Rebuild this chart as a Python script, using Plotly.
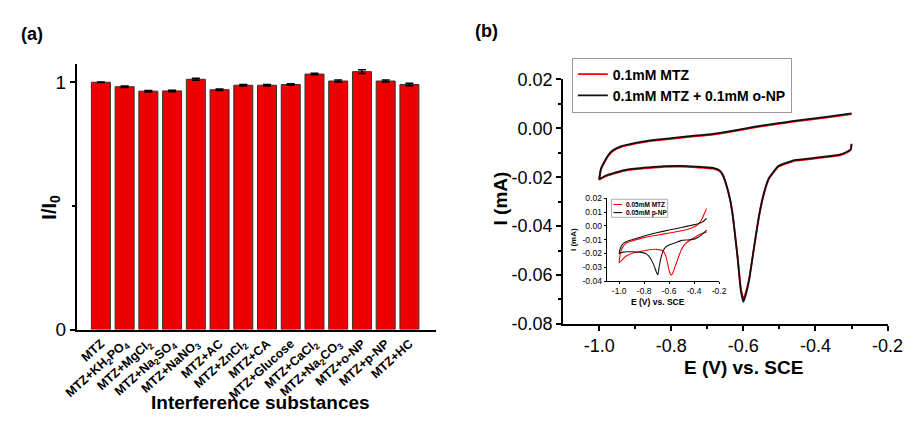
import plotly.graph_objects as go

FONT = "Liberation Sans, Arial, sans-serif"
W, H = 921, 429

# ---------------- Panel (a) data ----------------
categories = ["MTZ", "MTZ+KH<sub>2</sub>PO<sub>4</sub>", "MTZ+MgCl<sub>2</sub>",
              "MTZ+Na<sub>2</sub>SO<sub>4</sub>", "MTZ+NaNO<sub>3</sub>", "MTZ+AC",
              "MTZ+ZnCl<sub>2</sub>", "MTZ+CA", "MTZ+Glucose", "MTZ+CaCl<sub>2</sub>",
              "MTZ+Na<sub>2</sub>CO<sub>3</sub>", "MTZ+o-NP", "MTZ+p-NP", "MTZ+HC"]
ratio = [1.000, 0.982, 0.964, 0.965, 1.012, 0.970, 0.988, 0.988, 0.991, 1.033,
         1.005, 1.043, 1.005, 0.991]
ratio_err = [0.001, 0.003, 0.003, 0.003, 0.004, 0.003, 0.003, 0.003, 0.003, 0.003,
             0.004, 0.008, 0.004, 0.005]
a_ytickvals = [0, 1]
a_yticktext = ["0", "1"]
a_yminor = [0.5]

# ---------------- Panel (b) main CV data ----------------
# cathodic sweep (from -0.3 V to -1.0 V)
main_E_lower = [-0.300, -0.302, -0.310, -0.333, -0.370, -0.404, -0.458, -0.503, -0.515,
                -0.530, -0.544, -0.557, -0.571, -0.584, -0.593, -0.600, -0.607, -0.616,
                -0.629, -0.637, -0.647, -0.657, -0.665, -0.684, -0.730, -0.773, -0.820,
                -0.863, -0.920, -0.954, -0.980, -1.000]
main_I_lower_black = [-0.0063, -0.0085, -0.0094, -0.0108, -0.0115, -0.0121, -0.0130,
                      -0.0154, -0.0175, -0.0206, -0.0270, -0.0360, -0.0492, -0.0621,
                      -0.0680, -0.0710, -0.0665, -0.0531, -0.0362, -0.0290, -0.0232,
                      -0.0190, -0.0173, -0.0162, -0.0157, -0.0154, -0.0155, -0.0160,
                      -0.0168, -0.0180, -0.0192, -0.0208]
main_I_lower_red = [-0.0066, -0.0088, -0.0097, -0.0111, -0.0118, -0.0124, -0.0133,
                    -0.0157, -0.0178, -0.0210, -0.0275, -0.0365, -0.0495, -0.0615,
                    -0.0670, -0.0698, -0.0655, -0.0525, -0.0360, -0.0290, -0.0234,
                    -0.0193, -0.0176, -0.0165, -0.0160, -0.0157, -0.0158, -0.0163,
                    -0.0171, -0.0183, -0.0195, -0.0210]
# anodic sweep (from -1.0 V back to -0.3 V)
main_E_upper = [-1.000, -0.995, -0.985, -0.975, -0.962, -0.940, -0.900, -0.863, -0.800,
                -0.750, -0.684, -0.640, -0.593, -0.550, -0.503, -0.460, -0.414, -0.360,
                -0.300]
main_I_upper_black = [-0.0208, -0.0165, -0.0135, -0.0110, -0.0090, -0.0074, -0.0060,
                      -0.0050, -0.0040, -0.0032, -0.0023, -0.0013, 0.0000, 0.0011,
                      0.0021, 0.0030, 0.0039, 0.0049, 0.0061]
main_I_upper_red = [-0.0210, -0.0168, -0.0138, -0.0113, -0.0093, -0.0077, -0.0063,
                    -0.0053, -0.0043, -0.0035, -0.0026, -0.0016, -0.0003, 0.0008,
                    0.0018, 0.0027, 0.0036, 0.0046, 0.0058]
b_xtickvals = [-1.0, -0.8, -0.6, -0.4, -0.2]
b_xticktext = ["-1.0", "-0.8", "-0.6", "-0.4", "-0.2"]
b_xminor = [-0.9, -0.7, -0.5, -0.3]
b_ytickvals = [-0.08, -0.06, -0.04, -0.02, 0.00, 0.02]
b_yticktext = ["-0.08", "-0.06", "-0.04", "-0.02", "0.00", "0.02"]
b_yminor = [-0.07, -0.05, -0.03, -0.01, 0.01]

# ---------------- Inset CV data ----------------
ins_red_E = [-0.30, -0.35, -0.40, -0.45, -0.48, -0.50, -0.52, -0.55, -0.57, -0.58, -0.59,
             -0.60, -0.61, -0.63, -0.65, -0.70, -0.80, -0.90, -0.95, -1.00,
             -0.99, -0.97, -0.94, -0.90, -0.80, -0.70, -0.60, -0.50, -0.42, -0.37,
             -0.34, -0.32, -0.30]
ins_red_I = [-0.0045, -0.0060, -0.0085, -0.0115, -0.0140, -0.0170, -0.0215, -0.0290,
             -0.0340, -0.0355, -0.0350, -0.0325, -0.0280, -0.0210, -0.0180, -0.0170,
             -0.0180, -0.0200, -0.0222, -0.0268,
             -0.0200, -0.0150, -0.0125, -0.0110, -0.0085, -0.0068, -0.0052, -0.0035,
             -0.0015, 0.0010, 0.0045, 0.0085, 0.0125]
ins_blk_E = [-0.30, -0.34, -0.37, -0.41, -0.45, -0.50, -0.55, -0.60, -0.63, -0.65, -0.67,
             -0.68, -0.69, -0.70, -0.72, -0.75, -0.78, -0.82, -0.90, -0.97, -1.00,
             -0.99, -0.97, -0.93, -0.86, -0.78, -0.70, -0.60, -0.50, -0.42, -0.37,
             -0.33, -0.30]
ins_blk_I = [-0.0030, -0.0065, -0.0084, -0.0098, -0.0102, -0.0105, -0.0123, -0.0138,
             -0.0155, -0.0185, -0.0250, -0.0300, -0.0355, -0.0340, -0.0290, -0.0235,
             -0.0205, -0.0192, -0.0188, -0.0190, -0.0200,
             -0.0160, -0.0130, -0.0110, -0.0090, -0.0068, -0.0050, -0.0030, -0.0012,
             0.0005, 0.0015, 0.0030, 0.0055]
ins_xtickvals = [-1.0, -0.8, -0.6, -0.4, -0.2]
ins_xticktext = ["-1.0", "-0.8", "-0.6", "-0.4", "-0.2"]
ins_ytickvals = [-0.04, -0.03, -0.02, -0.01, 0.00, 0.01, 0.02]
ins_yticktext = ["-0.04", "-0.03", "-0.02", "-0.01", "0.00", "0.01", "0.02"]
ins_legend_names = ["0.05mM MTZ", "0.05mM p-NP"]
ins_legend_colors = ["#FF0000", "#111111"]


def px(x):
    return x / W


def py(y):
    return 1 - y / H


fig = go.Figure()

# Panel (a) bars
fig.add_trace(go.Bar(
    x=categories, y=ratio, width=0.8,
    marker=dict(color="#EE0000", line=dict(color="#333333", width=1)),
    error_y=dict(type="data", array=ratio_err, color="black", thickness=1.5, width=4),
    xaxis="x", yaxis="y", showlegend=False))

# Panel (b) main CV
fig.add_trace(go.Scatter(
    x=main_E_lower + main_E_upper, y=main_I_lower_red + main_I_upper_red,
    mode="lines", line=dict(color="#FF0000", width=1.8, shape="spline", smoothing=0.4),
    name="0.1mM MTZ", xaxis="x2", yaxis="y2", legend="legend"))
fig.add_trace(go.Scatter(
    x=main_E_lower + main_E_upper, y=main_I_lower_black + main_I_upper_black,
    mode="lines", line=dict(color="#111111", width=1.8, shape="spline", smoothing=0.4),
    name="0.1mM MTZ + 0.1mM o-NP", xaxis="x2", yaxis="y2", legend="legend"))

# Inset CV
fig.add_trace(go.Scatter(
    x=ins_red_E, y=ins_red_I, mode="lines",
    line=dict(color=ins_legend_colors[0], width=1.1, shape="spline", smoothing=0.4),
    name=ins_legend_names[0], xaxis="x3", yaxis="y3", showlegend=False))
fig.add_trace(go.Scatter(
    x=ins_blk_E, y=ins_blk_I, mode="lines",
    line=dict(color=ins_legend_colors[1], width=1.1, shape="spline", smoothing=0.4),
    name=ins_legend_names[1], xaxis="x3", yaxis="y3", showlegend=False))

axis_common = dict(showline=True, linecolor="black", showgrid=False, zeroline=False,
                   ticks="outside", tickcolor="black")

fig.update_layout(
    width=W, height=H, margin=dict(l=0, r=0, t=0, b=0),
    paper_bgcolor="white", plot_bgcolor="white",
    font=dict(family=FONT, color="black"),
    bargap=0.2,
    xaxis=dict(domain=[px(66), px(437)], range=[-1.01, 14.13], anchor="y",
               showline=True, linecolor="black", linewidth=2, ticks="",
               showgrid=False, zeroline=False, tickangle=-42,
               tickfont=dict(size=12.5, family=FONT, weight="bold", color="black")),
    yaxis=dict(domain=[py(336), py(57)], range=[0, 1.073], anchor="x",
               tickvals=a_ytickvals, ticktext=a_yticktext, linewidth=2,
               ticklen=5, tickwidth=2, tickfont=dict(size=19, family=FONT),
               minor=dict(tickvals=a_yminor, ticks="outside", ticklen=3,
                          tickwidth=2, tickcolor="black"),
               **axis_common),
    xaxis2=dict(domain=[px(568), px(903)], range=[-1.1, -0.2], anchor="y2",
                tickvals=b_xtickvals, ticktext=b_xticktext, linewidth=2,
                ticklen=5, tickwidth=2, tickfont=dict(size=18, family=FONT),
                minor=dict(tickvals=b_xminor, ticks="outside", ticklen=3,
                           tickwidth=2, tickcolor="black"),
                **axis_common),
    yaxis2=dict(domain=[py(330), py(73)], range=[-0.08, 0.02], anchor="x2",
                tickvals=b_ytickvals, ticktext=b_yticktext, linewidth=2,
                ticklen=5, tickwidth=2, tickfont=dict(size=18, family=FONT),
                minor=dict(tickvals=b_yminor, ticks="outside", ticklen=3,
                           tickwidth=2, tickcolor="black"),
                **axis_common),
    xaxis3=dict(domain=[px(613), px(729)], range=[-1.1, -0.2], anchor="y3",
                tickvals=ins_xtickvals, ticktext=ins_xticktext, linewidth=1.2,
                ticklen=2, tickwidth=1, tickfont=dict(size=8.5, family=FONT),
                **axis_common),
    yaxis3=dict(domain=[py(285), py(198)], range=[-0.04, 0.02], anchor="x3",
                tickvals=ins_ytickvals, ticktext=ins_yticktext, linewidth=1.2,
                ticklen=2, tickwidth=1, tickfont=dict(size=8.5, family=FONT),
                **axis_common),
    legend=dict(x=px(577), y=py(50), xanchor="left", yanchor="top",
                bgcolor="white", bordercolor="#999999", borderwidth=1,
                font=dict(size=14, family=FONT, weight="bold"), tracegroupgap=0),
)

# Inset legend (drawn as box + swatches + labels)
fig.add_shape(type="rect", xref="paper", yref="paper",
              x0=px(618), x1=px(676), y0=py(218), y1=py(199),
              line=dict(color="#999999", width=0.8), fillcolor="white", layer="above")
for i, (nm, col) in enumerate(zip(ins_legend_names, ins_legend_colors)):
    yy = 204.5 + i * 8.5
    fig.add_shape(type="line", xref="paper", yref="paper",
                  x0=px(620), x1=px(629), y0=py(yy), y1=py(yy),
                  line=dict(color=col, width=1.1), layer="above")
    fig.add_annotation(text=nm, x=px(630.5), y=py(yy), xref="paper", yref="paper",
                       showarrow=False, xanchor="left", yanchor="middle",
                       font=dict(size=6.5, family=FONT, weight="bold", color="black"))

ann = [
    dict(text="(a)", x=px(20), y=py(25), size=18),
    dict(text="(b)", x=px(489), y=py(22), size=18),
    dict(text="Interference substances", x=px(256), y=py(413), size=19),
    dict(text="E (V) vs. SCE", x=px(754), y=py(376), size=19),
    dict(text="E (V) vs. SCE", x=px(666), y=py(307), size=8.5),
]
for a in ann:
    fig.add_annotation(text=a["text"], x=a["x"], y=a["y"], xref="paper", yref="paper",
                       showarrow=False, xanchor="center", yanchor="middle",
                       font=dict(size=a["size"], family=FONT, weight="bold", color="black"))

rot = [
    dict(text="I/I<sub>0</sub>", x=px(39), y=py(207), size=20),
    dict(text="I (mA)", x=px(503), y=py(198), size=19),
    dict(text="I (mA)", x=px(578), y=py(241), size=8),
]
for a in rot:
    fig.add_annotation(text=a["text"], x=a["x"], y=a["y"], xref="paper", yref="paper",
                       showarrow=False, xanchor="center", yanchor="middle", textangle=-90,
                       font=dict(size=a["size"], family=FONT, weight="bold", color="black"))

fig.write_html("out.html")
